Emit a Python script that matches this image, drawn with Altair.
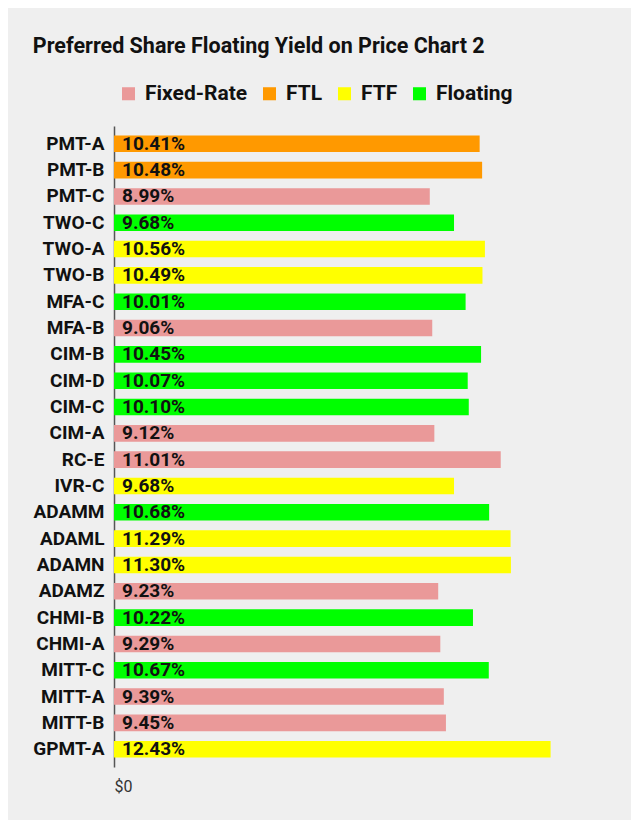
import altair as alt
import pandas as pd

tickers = ["PMT-A", "PMT-B", "PMT-C", "TWO-C", "TWO-A", "TWO-B", "MFA-C", "MFA-B",
           "CIM-B", "CIM-D", "CIM-C", "CIM-A", "RC-E", "IVR-C", "ADAMM", "ADAML",
           "ADAMN", "ADAMZ", "CHMI-B", "CHMI-A", "MITT-C", "MITT-A", "MITT-B", "GPMT-A"]
yields = [10.41, 10.48, 8.99, 9.68, 10.56, 10.49, 10.01, 9.06,
          10.45, 10.07, 10.10, 9.12, 11.01, 9.68, 10.68, 11.29,
          11.30, 9.23, 10.22, 9.29, 10.67, 9.39, 9.45, 12.43]
types = ["FTL", "FTL", "Fixed-Rate", "Floating", "FTF", "FTF", "Floating", "Fixed-Rate",
         "Floating", "Floating", "Floating", "Fixed-Rate", "Fixed-Rate", "FTF", "Floating", "FTF",
         "FTF", "Fixed-Rate", "Floating", "Fixed-Rate", "Floating", "Fixed-Rate", "Fixed-Rate", "FTF"]

categories = ["Fixed-Rate", "FTL", "FTF", "Floating"]
colors = ["#ea9999", "#ff9900", "#ffff00", "#00ff00"]

df = pd.DataFrame({"ticker": tickers, "yield": yields, "type": types})
df["label"] = [f"{v:.2f}%" for v in yields]

FONT = "Roboto"

y_enc = alt.Y("ticker:N", sort=tickers, title=None,
              scale=alt.Scale(paddingInner=0.37, paddingOuter=0.36),
              axis=alt.Axis(labelFont=FONT, labelFontSize=19, labelFontWeight="bold",
                            labelColor="#111111", labelPadding=10, ticks=False,
                            domain=True, domainColor="#555555", domainWidth=1.5))
x_enc = alt.X("yield:Q", title=None,
              scale=alt.Scale(domain=[0, 13.95], nice=False),
              axis=alt.Axis(values=[0], format="$0", labelFont=FONT, labelFontSize=16,
                            labelColor="#333333", grid=False, ticks=False, domain=False,
                            labelPadding=11))

bars = alt.Chart(df).mark_bar().encode(
    y=y_enc,
    x=x_enc,
    color=alt.Color("type:N", scale=alt.Scale(domain=categories, range=colors),
                    legend=alt.Legend(title=None, orient="none", direction="horizontal",
                                      legendX=4, legendY=-43,
                                      labelFont=FONT, labelFontSize=21, labelFontWeight="bold",
                                      labelColor="#111111", symbolType="square",
                                      symbolSize=170, symbolStrokeWidth=0, columnPadding=11,
                                      labelOffset=6)),
)

text = alt.Chart(df).mark_text(align="left", baseline="middle", dx=8,
                               font=FONT, fontSize=19, fontWeight="bold",
                               color="#111111").encode(
    y=alt.Y("ticker:N", sort=tickers),
    x=alt.value(0),
    text="label:N",
)

chart = (bars + text).properties(
    width=490, height=641,
    background="#efefef",
    padding={"left": 24, "top": 27, "right": 27, "bottom": 26},
    title=alt.TitleParams("Preferred Share Floating Yield on Price Chart 2",
                          anchor="start", frame="bounds", font=FONT, fontSize=21.5,
                          fontWeight="bold", color="#111111", offset=26),
).configure_view(stroke=None)

chart.save("out.html", embed_options={"renderer": "svg", "actions": False})
